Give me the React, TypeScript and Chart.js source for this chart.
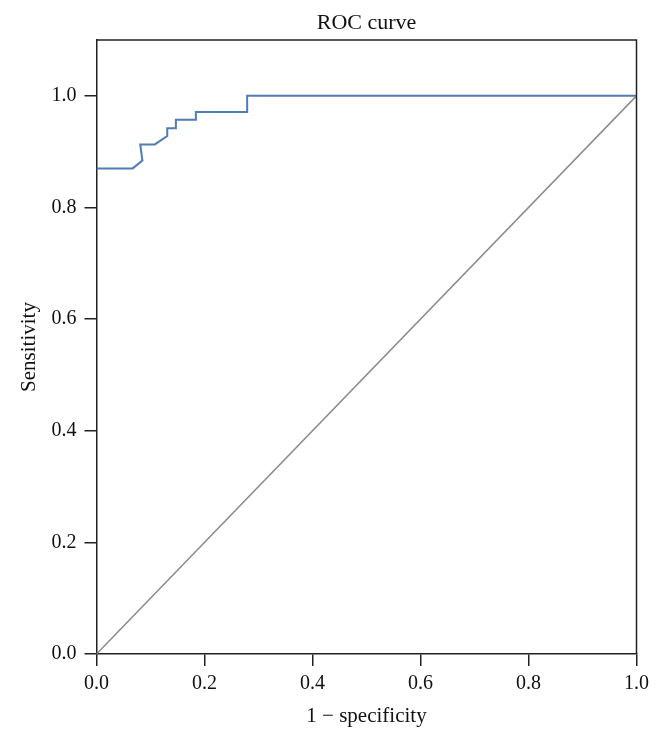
import React, { useEffect, useRef } from "react";
import { Chart, registerables } from "chart.js";

Chart.register(...registerables);

const fpr = [0, 0.067, 0.085, 0.081, 0.108, 0.131, 0.131, 0.147, 0.147, 0.184, 0.184, 0.279, 0.279, 1.0];
const tpr = [0.87, 0.87, 0.884, 0.913, 0.913, 0.928, 0.942, 0.942, 0.957, 0.957, 0.971, 0.971, 1.0, 1.0];
const diagX = [0, 1];
const diagY = [0, 1];
const tickValues = [0, 0.2, 0.4, 0.6, 0.8, 1.0];
const titleText = "ROC curve";
const xLabel = "1 \u2212 specificity";
const yLabel = "Sensitivity";

const FONT = "'Liberation Serif', 'DejaVu Serif', serif";

export default function App() {
  const ref = useRef<HTMLCanvasElement | null>(null);
  useEffect(() => {
    document.body.style.margin = "0";
    const canvas = ref.current!;
    const textPlugin = {
      id: "texts",
      afterDraw(chart: any) {
        const ctx = chart.ctx;
        const a = chart.chartArea;
        ctx.save();
        ctx.strokeStyle = "#222";
        ctx.lineWidth = 1.5;
        ctx.beginPath();
        ctx.moveTo(a.left, a.top);
        ctx.lineTo(a.right, a.top);
        ctx.lineTo(a.right, a.bottom);
        ctx.stroke();
        ctx.fillStyle = "#111";
        ctx.textAlign = "center";
        ctx.textBaseline = "alphabetic";
        const cx = (a.left + a.right) / 2;
        ctx.font = `22px ${FONT}`;
        ctx.fillText(titleText, cx, 29);
        ctx.font = `21px ${FONT}`;
        ctx.fillText(xLabel, cx, 722);
        ctx.translate(35, (a.top + a.bottom) / 2);
        ctx.rotate(-Math.PI / 2);
        ctx.fillText(yLabel, 0, 0);
        ctx.restore();
      },
    };
    const chart = new Chart(canvas, {
      type: "scatter",
      data: {
        datasets: [
          {
            data: diagX.map((x, i) => ({ x, y: diagY[i] })),
            showLine: true,
            borderColor: "#8a8a8a",
            borderWidth: 1.5,
            pointRadius: 0,
          },
          {
            data: fpr.map((x, i) => ({ x, y: tpr[i] })),
            showLine: true,
            borderColor: "#4f7cb3",
            borderWidth: 2,
            pointRadius: 0,
          },
        ],
      },
      options: {
        responsive: false,
        animation: false,
        devicePixelRatio: 1,
        layout: { padding: { top: 40, right: 24.5, left: 0, bottom: 0 } },
        plugins: { legend: { display: false }, tooltip: { enabled: false } },
        scales: {
          x: {
            type: "linear",
            min: 0,
            max: 1,
            afterFit: (s: any) => { s.height = 88; },
            afterBuildTicks: (s: any) => { s.ticks = tickValues.map((v) => ({ value: v })); },
            border: { display: true, color: "#222", width: 1.5 },
            grid: { display: true, drawOnChartArea: false, drawTicks: true, tickLength: 12, color: "#222", lineWidth: 1.5 },
            ticks: {
              padding: 6,
              color: "#111",
              font: { family: FONT, size: 20 },
              callback: (v: any) => Number(v).toFixed(1),
              maxRotation: 0,
            },
          },
          y: {
            type: "linear",
            min: 0,
            max: 1.1,
            afterFit: (s: any) => { s.width = 96.5; },
            afterBuildTicks: (s: any) => { s.ticks = tickValues.map((v) => ({ value: v })); },
            border: { display: true, color: "#222", width: 1.5 },
            grid: { display: true, drawOnChartArea: false, drawTicks: true, tickLength: 12, color: "#222", lineWidth: 1.5 },
            ticks: {
              padding: 8,
              color: "#111",
              font: { family: FONT, size: 20 },
              callback: (v: any) => Number(v).toFixed(1),
            },
          },
        },
      },
      plugins: [textPlugin],
    });
    return () => chart.destroy();
  }, []);
  return <canvas ref={ref} width={661} height={742} style={{ display: "block" }} />;
}
